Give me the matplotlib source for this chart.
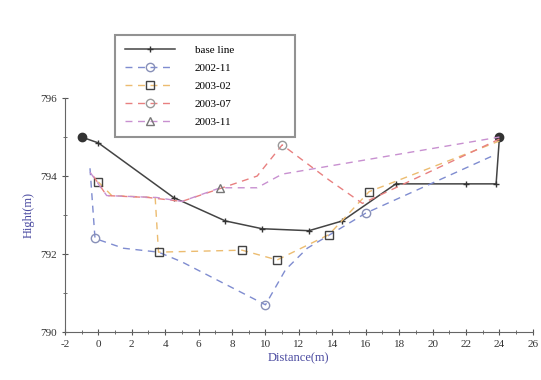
import matplotlib
matplotlib.use("Agg")
import matplotlib.pyplot as plt
from matplotlib.ticker import MultipleLocator

plt.rcParams["font.family"] = ["Liberation Serif", "DejaVu Serif"]
plt.rcParams["axes.unicode_minus"] = False

# Baseline survey profile
base_x = [-1, 0, 4.5, 7.6, 9.8, 12.6, 14.6, 17.8, 22.0, 23.8, 24.0]
base_y = [795.0, 794.85, 793.45, 792.85, 792.65, 792.6, 792.85, 793.8, 793.8, 793.8, 795.0]

# Repeat surveys
s0211_x = [-0.5, -0.2, 1.5, 3.6, 5.0, 10.0, 11.2, 12.5, 16.0, 23.5]
s0211_y = [794.2, 792.4, 792.15, 792.05, 791.8, 790.7, 791.6, 792.15, 793.05, 794.5]

s0302_x = [0.0, 0.8, 3.4, 3.6, 8.6, 10.7, 13.8, 16.2, 24.0]
s0302_y = [793.85, 793.5, 793.45, 792.05, 792.1, 791.85, 792.5, 793.6, 794.9]

s0307_x = [-0.3, 0.5, 3.0, 5.0, 9.5, 11.0, 13.8, 15.8, 24.0]
s0307_y = [794.0, 793.5, 793.45, 793.35, 794.0, 794.8, 793.9, 793.3, 794.95]

s0311_x = [-0.5, 0.5, 3.5, 5.0, 7.3, 9.5, 11.0, 24.0]
s0311_y = [794.1, 793.5, 793.45, 793.35, 793.7, 793.7, 794.05, 795.0]

labels = ["base line", "2002-11", "2003-02", "2003-07", "2003-11"]

fig = plt.figure(figsize=(5.41, 3.80), dpi=100)
ax = fig.add_axes([0.120, 0.126, 0.865, 0.616])

ax.plot(base_x, base_y, color="#444444", lw=1.1, marker="+", ms=5,
        mec="#333333", label=labels[0])
ax.plot([base_x[0], base_x[-1]], [base_y[0], base_y[-1]], ls="none",
        marker="o", ms=6, color="#333333")

dash = (0, (5, 4))
ax.plot(s0211_x, s0211_y, color="#7f8cd0", lw=1.0, ls=dash, marker="o", ms=6,
        mfc="none", mec="#8890b8", markevery=[1, 5, 8], label=labels[1])
ax.plot(s0302_x, s0302_y, color="#ecbc70", lw=1.0, ls=dash, marker="s", ms=6,
        mfc="none", mec="#444444", markevery=[0, 3, 4, 5, 6, 7], label=labels[2])
ax.plot(s0307_x, s0307_y, color="#e88080", lw=1.0, ls=dash, marker="o", ms=6,
        mfc="none", mec="#999999", markevery=[5], label=labels[3])
ax.plot(s0311_x, s0311_y, color="#c890d0", lw=1.0, ls=dash, marker="^", ms=6,
        mfc="none", mec="#777777", markevery=[4], label=labels[4])

ax.set_xlim(-2, 26)
ax.set_ylim(790, 796)
ax.xaxis.set_major_locator(MultipleLocator(2))
ax.xaxis.set_minor_locator(MultipleLocator(1))
ax.yaxis.set_major_locator(MultipleLocator(2))
ax.yaxis.set_minor_locator(MultipleLocator(1))
ax.tick_params(which="both", direction="inout", colors="#555555",
               labelcolor="#333333", labelsize=8)
ax.tick_params(which="major", length=5)
ax.tick_params(which="minor", length=3)
for side in ("top", "right"):
    ax.spines[side].set_visible(False)
for side in ("left", "bottom"):
    ax.spines[side].set_color("#666666")

ax.set_xlabel("Distance(m)", color="#4a4aa0", fontsize=9, labelpad=2)
ax.set_ylabel("Hight(m)", color="#4a4aa0", fontsize=9, labelpad=4)

leg = fig.legend(loc="lower left", bbox_to_anchor=(0.2126, 0.639, 0.333, 0.334),
                 mode="expand", frameon=True, fancybox=False, handlelength=4.5,
                 fontsize=8, labelspacing=0.75, borderpad=0.9, handletextpad=1.8,
                 borderaxespad=0)
leg.get_frame().set_edgecolor("#777777")
leg.get_frame().set_linewidth(1.5)

fig.savefig("out.png", dpi=100)
